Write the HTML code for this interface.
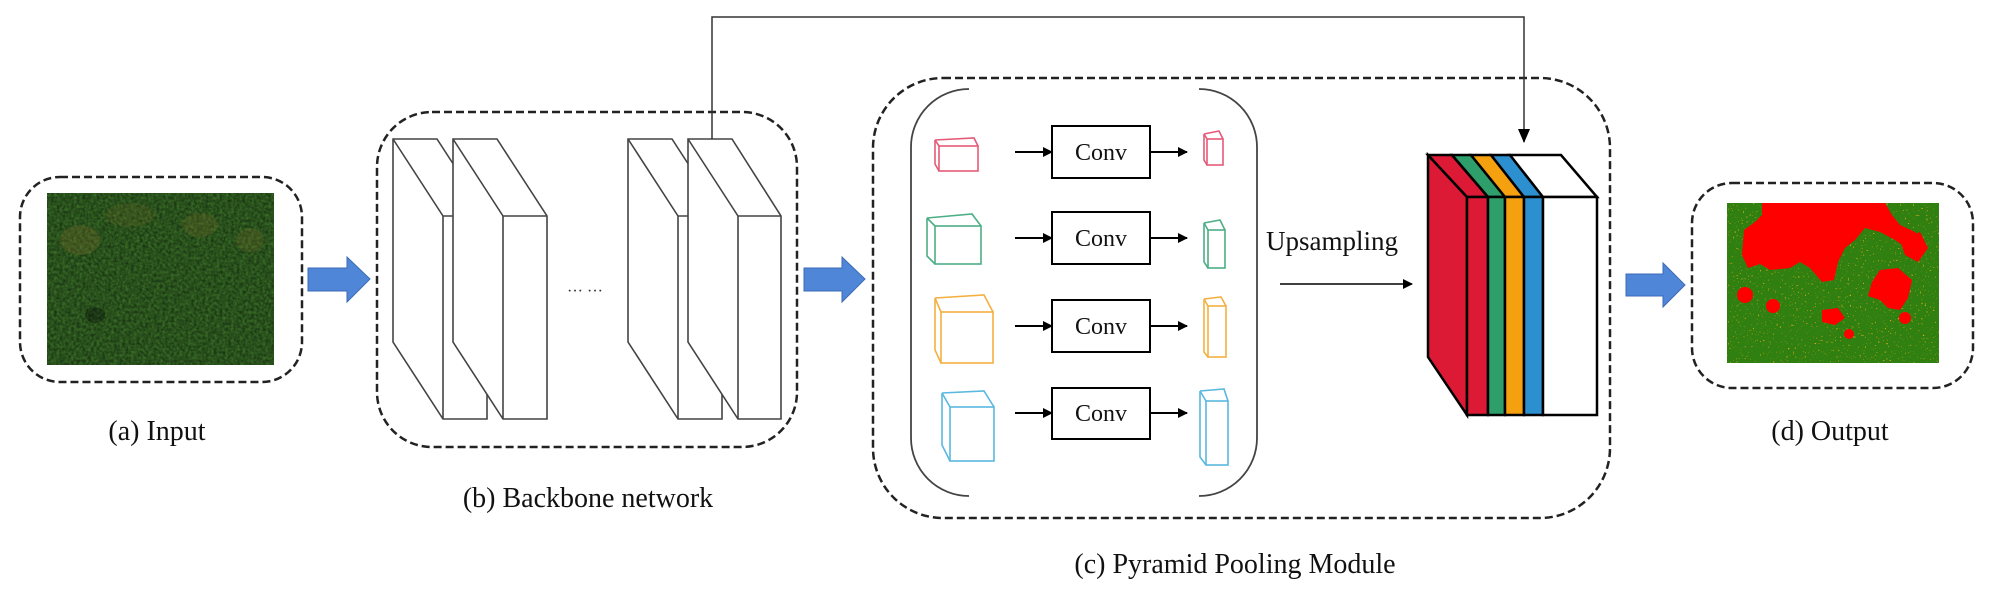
<!DOCTYPE html>
<html><head><meta charset="utf-8"><style>html,body{margin:0;padding:0;background:#fff}svg{display:block}</style></head>
<body>
<svg width="1998" height="604" viewBox="0 0 1998 604" xmlns="http://www.w3.org/2000/svg" font-family="'Liberation Serif', serif">
<defs>
<filter id="grass" x="0" y="0" width="100%" height="100%" color-interpolation-filters="sRGB">
<feTurbulence type="fractalNoise" baseFrequency="0.35" numOctaves="2" seed="3" result="n"/>
<feColorMatrix in="n" type="matrix" values="0.2 0 0 0 0.06  0.35 0 0 0 0.14  0.12 0 0 0 0.05  0 0 0 0 1"/>
</filter>
<filter id="spots" x="0" y="0" width="100%" height="100%" color-interpolation-filters="sRGB">
<feTurbulence type="fractalNoise" baseFrequency="0.6" numOctaves="1" seed="7" result="n"/>
<feColorMatrix in="n" type="matrix" values="0 0 0 0 0.85  0 0 0 0 0.65  0 0 0 0 0.1  14 0 0 0 -9.3"/>
</filter>
<marker id="ah" markerWidth="10" markerHeight="10" refX="9" refY="5" orient="auto" markerUnits="userSpaceOnUse"><path d="M0,0 L10,5 L0,10 z" fill="#000"/></marker>
<marker id="ah2" markerWidth="14" markerHeight="12" refX="13" refY="6" orient="auto" markerUnits="userSpaceOnUse"><path d="M0,0 L14,6 L0,12 z" fill="#000"/></marker>
</defs>

<g fill="none" stroke="#222" stroke-width="2.5" stroke-dasharray="8 4">
<rect x="20" y="177" width="282" height="205" rx="40"/>
<rect x="377" y="112" width="420" height="335" rx="55"/>
<rect x="873" y="78" width="737" height="440" rx="70"/>
<rect x="1692" y="183" width="281" height="205" rx="40"/>
</g>

<rect x="47" y="193" width="227" height="172" fill="#2c4a22"/>
<rect x="47" y="193" width="227" height="172" filter="url(#grass)"/>
<ellipse cx="80" cy="240" rx="20" ry="15" fill="#7a6a2a" opacity="0.3"/>
<ellipse cx="200" cy="225" rx="18" ry="12" fill="#7a6a2a" opacity="0.25"/>
<ellipse cx="250" cy="240" rx="14" ry="12" fill="#7a6a2a" opacity="0.25"/>
<ellipse cx="130" cy="215" rx="25" ry="12" fill="#7a6a2a" opacity="0.2"/>
<ellipse cx="95" cy="315" rx="10" ry="8" fill="#0a150a" opacity="0.4"/>

<g fill="#4f86d8" stroke="#3b6bb5" stroke-width="1">
<path d="M308,268 L347,268 L347,257 L370,279 L347,302 L347,291 L308,291 z"/>
<path d="M804,268 L842,268 L842,257 L865,279 L842,302 L842,291 L804,291 z"/>
<path d="M1626,274 L1663,274 L1663,263 L1685,285 L1663,307 L1663,296 L1626,296 z"/>
</g>

<g fill="#fff" stroke="#444" stroke-width="1.6">
<path d="M393,139 L437,139 L487,216 L487,419 L443,419 L393,342 z M393,139 L443,216 L487,216 M443,216 L443,419"/>
<path d="M453,139 L497,139 L547,216 L547,419 L503,419 L453,342 z M453,139 L503,216 L547,216 M503,216 L503,419"/>
<path d="M628,139 L672,139 L722,216 L722,419 L678,419 L628,342 z M628,139 L678,216 L722,216 M678,216 L678,419"/>
<path d="M688,139 L732,139 L781,216 L781,419 L738,419 L688,342 z M688,139 L738,216 L781,216 M738,216 L738,419"/>
</g>
<text x="567" y="296" font-size="16" fill="#333">··· ···</text>

<path d="M712,139 L712,17 L1524,17 L1524,142" fill="none" stroke="#333" stroke-width="1.5" marker-end="url(#ah2)"/>

<g fill="none" stroke="#444" stroke-width="1.8">
<path d="M969,89 A58,58 0 0 0 911,147 L911,438 A58,58 0 0 0 969,496"/>
<path d="M1199,89 A58,58 0 0 1 1257,147 L1257,438 A58,58 0 0 1 1199,496"/>
</g>

<g fill="none" stroke-width="1.6">
<g stroke="#e45a78"><rect x="939" y="146" width="39" height="25"/><path d="M935,140 L974,138 L978,146 M935,140 L939,146 M935,140 L935,164 L939,171"/></g>
<g stroke="#4cae85"><rect x="935" y="226" width="46" height="38"/><path d="M927,218 L972,214 L981,226 M927,218 L935,226 M927,218 L927,256 L935,264"/></g>
<g stroke="#f3b040"><rect x="941" y="312" width="52" height="51"/><path d="M935,298 L984,295 L993,312 M935,298 L941,312 M935,298 L935,350 L941,363"/></g>
<g stroke="#5ab8df"><rect x="950" y="407" width="44" height="54"/><path d="M942,393 L984,391 L994,407 M942,393 L950,407 M942,393 L942,445 L950,461"/></g>
<g stroke="#e45a78"><rect x="1207" y="139" width="16" height="26"/><path d="M1204,134 L1219,131 L1223,139 M1204,134 L1207,139 M1204,134 L1204,160 L1207,165"/></g>
<g stroke="#4cae85"><rect x="1208" y="230" width="17" height="38"/><path d="M1204,223 L1220,220 L1225,230 M1204,223 L1208,230 M1204,223 L1204,262 L1208,268"/></g>
<g stroke="#f3b040"><rect x="1208" y="306" width="18" height="51"/><path d="M1204,299 L1221,297 L1226,306 M1204,299 L1208,306 M1204,299 L1204,352 L1208,357"/></g>
<g stroke="#5ab8df"><rect x="1206" y="401" width="22" height="64"/><path d="M1200,391 L1224,389 L1228,401 M1200,391 L1206,401 M1200,391 L1200,457 L1206,465"/></g>
</g>

<g stroke="#000" stroke-width="2" fill="none">
<line x1="1015" y1="152" x2="1052" y2="152" marker-end="url(#ah)"/>
<rect x="1052" y="126" width="98" height="52" fill="#fff"/>
<line x1="1150" y1="152" x2="1187" y2="152" marker-end="url(#ah)"/>
<line x1="1015" y1="238" x2="1052" y2="238" marker-end="url(#ah)"/>
<rect x="1052" y="212" width="98" height="52" fill="#fff"/>
<line x1="1150" y1="238" x2="1187" y2="238" marker-end="url(#ah)"/>
<line x1="1015" y1="326" x2="1052" y2="326" marker-end="url(#ah)"/>
<rect x="1052" y="300" width="98" height="52" fill="#fff"/>
<line x1="1150" y1="326" x2="1187" y2="326" marker-end="url(#ah)"/>
<line x1="1015" y1="413" x2="1052" y2="413" marker-end="url(#ah)"/>
<rect x="1052" y="388" width="98" height="51" fill="#fff"/>
<line x1="1150" y1="413" x2="1187" y2="413" marker-end="url(#ah)"/>
</g>
<g font-size="24" text-anchor="middle" fill="#111">
<text x="1101" y="160">Conv</text>
<text x="1101" y="246">Conv</text>
<text x="1101" y="334">Conv</text>
<text x="1101" y="421">Conv</text>
</g>

<text x="1266" y="250" font-size="27" fill="#111">Upsampling</text>
<line x1="1280" y1="284" x2="1412" y2="284" stroke="#000" stroke-width="1.5" marker-end="url(#ah)"/>

<g stroke="#000" stroke-width="2.5" stroke-linejoin="miter">
<path d="M1428,155 L1467,197 L1467,415 L1428,357 z" fill="#dc1a35"/>
<path d="M1428,155 L1452,155 L1488,197 L1467,197 z" fill="#dc1a35"/>
<path d="M1452,155 L1471,155 L1505,197 L1488,197 z" fill="#2e9e6a"/>
<path d="M1471,155 L1491,155 L1524,197 L1505,197 z" fill="#f5a00f"/>
<path d="M1491,155 L1510,155 L1543,197 L1524,197 z" fill="#2b8fd0"/>
<path d="M1510,155 L1561,155 L1597,197 L1543,197 z" fill="#fff"/>
<rect x="1467" y="197" width="21" height="218" fill="#dc1a35"/>
<rect x="1488" y="197" width="17" height="218" fill="#2e9e6a"/>
<rect x="1505" y="197" width="19" height="218" fill="#f5a00f"/>
<rect x="1524" y="197" width="19" height="218" fill="#2b8fd0"/>
<rect x="1543" y="197" width="54" height="218" fill="#fff"/>
</g>

<rect x="1727" y="203" width="212" height="160" fill="#2f8010"/>
<rect x="1727" y="203" width="212" height="160" filter="url(#spots)"/>
<g fill="#f00">
<path d="M1762,203 L1885,203 L1892,215 L1900,225 L1915,232 L1925,242 L1918,262 L1910,250 L1895,240 L1880,232 L1865,228 L1855,240 L1845,248 L1838,262 L1834,280 L1822,282 L1810,268 L1800,262 L1790,268 L1770,270 L1760,264 L1748,268 L1742,255 L1744,230 L1755,222 L1762,215 z"/>
<path d="M1900,240 L1920,232 L1928,248 L1918,262 L1905,255 z"/>
<path d="M1880,270 L1898,268 L1912,280 L1908,298 L1900,310 L1888,308 L1880,300 L1868,296 L1872,282 z"/>
<circle cx="1745" cy="295" r="8"/>
<circle cx="1773" cy="306" r="7"/>
<path d="M1822,310 L1838,308 L1845,318 L1835,325 L1822,322 z"/>
<circle cx="1849" cy="334" r="5"/>
<circle cx="1905" cy="318" r="6"/>
</g>

<g font-size="28" fill="#111" text-anchor="middle">
<text x="157" y="440">(a) Input</text>
<text x="588" y="507">(b) Backbone network</text>
<text x="1235" y="573">(c) Pyramid Pooling Module</text>
<text x="1830" y="440">(d) Output</text>
</g>
</svg>
</body></html>
